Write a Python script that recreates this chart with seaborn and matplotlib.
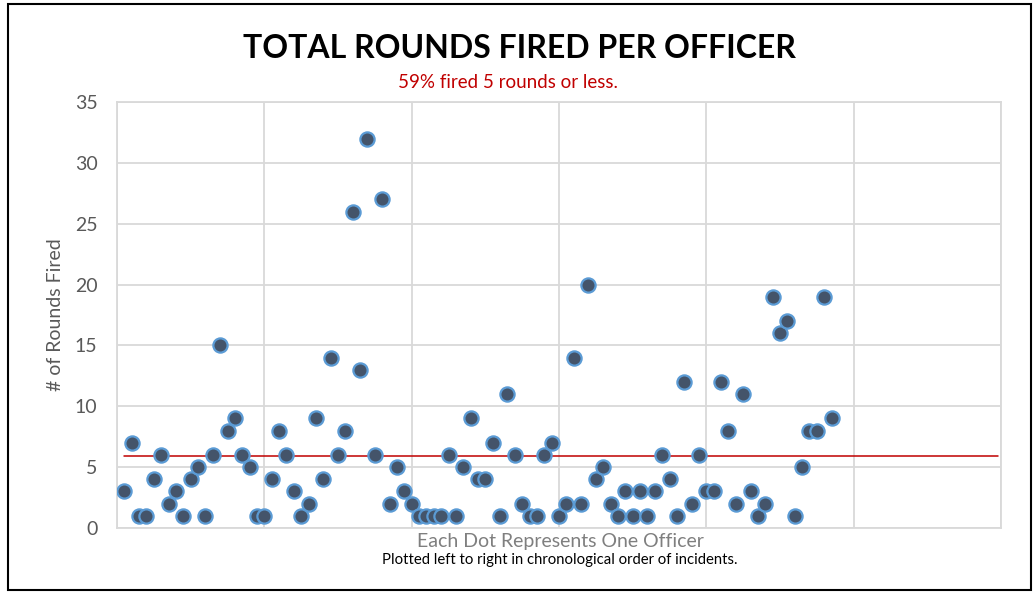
import numpy as np
import pandas as pd
import matplotlib
matplotlib.use("Agg")
import matplotlib.pyplot as plt
import seaborn as sns
from matplotlib.patches import Rectangle

# rounds fired by each officer, left to right (chronological)
rounds_fired = [3, 7, 1, 1, 4, 6, 2, 3, 1, 4,
                5, 1, 6, 15, 8, 9, 6, 5, 1, 1,
                4, 8, 6, 3, 1, 2, 9, 4, 14, 6,
                8, 26, 13, 32, 6, 27, 2, 5, 3, 2,
                1, 1, 1, 1, 6, 1, 5, 9, 4, 4,
                7, 1, 11, 6, 2, 1, 1, 6, 7, 1,
                2, 14, 2, 20, 4, 5, 2, 1, 3, 1,
                3, 1, 3, 6, 4, 1, 12, 2, 6, 3,
                3, 12, 8, 2, 11, 3, 1, 2, 19, 16,
                17, 1, 5, 8, 8, 19, 9]
officer = list(range(1, len(rounds_fired) + 1))
ref_line = 5.9
y_ticks = [0, 5, 10, 15, 20, 25, 30, 35]
x_grid = [0, 20, 40, 60, 80, 100, 120]

df = pd.DataFrame({"officer": officer, "rounds": rounds_fired})

sns.set_style("white")
plt.rcParams["font.family"] = ["Lato", "DejaVu Sans"]

fig = plt.figure(figsize=(10.36, 5.92), dpi=100)
ax = fig.add_axes([117 / 1036, 1 - 528 / 592, 884 / 1036, 426 / 592])

grid_c = "#d9d9d9"
for gx in x_grid:
    ax.axvline(gx, color=grid_c, lw=1.3, zorder=0)
for gy in y_ticks:
    ax.axhline(gy, color=grid_c, lw=1.3, zorder=0)

ax.axhline(ref_line, xmin=0.008, xmax=0.997, color="#c00000", lw=1.1, zorder=1)

sns.scatterplot(data=df, x="officer", y="rounds", ax=ax, s=105,
                color="#44546a", edgecolor="#5b9bd5", linewidth=1.6, zorder=3)

ax.set_xlim(0, 120)
ax.set_ylim(0, 35)
ax.set_xticks([])
ax.set_yticks(y_ticks)
ax.set_yticklabels([str(v) for v in y_ticks], fontsize=14, color="#595959")
ax.tick_params(axis="y", length=0, pad=14)
for sp in ax.spines.values():
    sp.set_color(grid_c)
    sp.set_linewidth(1.3)

ax.set_xlabel("")
ax.set_ylabel("# of Rounds Fired", fontsize=14, color="#595959", labelpad=8)

fig.text(519 / 1036, 1 - 48 / 592, "TOTAL ROUNDS FIRED PER OFFICER",
         ha="center", va="center", fontsize=23, fontweight="bold", color="black")
fig.text(508 / 1036, 1 - 82 / 592, "59% fired 5 rounds or less.",
         ha="center", va="center", fontsize=13.5, color="#c00000")
fig.text(560 / 1036, 1 - 541 / 592, "Each Dot Represents One Officer",
         ha="center", va="center", fontsize=14, color="#7f7f7f")
fig.text(560 / 1036, 1 - 560 / 592,
         "Plotted left to right in chronological order of incidents.",
         ha="center", va="center", fontsize=10.7, color="black")

fig.patches.append(Rectangle((8 / 1036, 2 / 592), 1023 / 1036, 586 / 592,
                             transform=fig.transFigure, fill=False,
                             edgecolor="black", lw=1.5))

fig.savefig("out.png", dpi=100)
